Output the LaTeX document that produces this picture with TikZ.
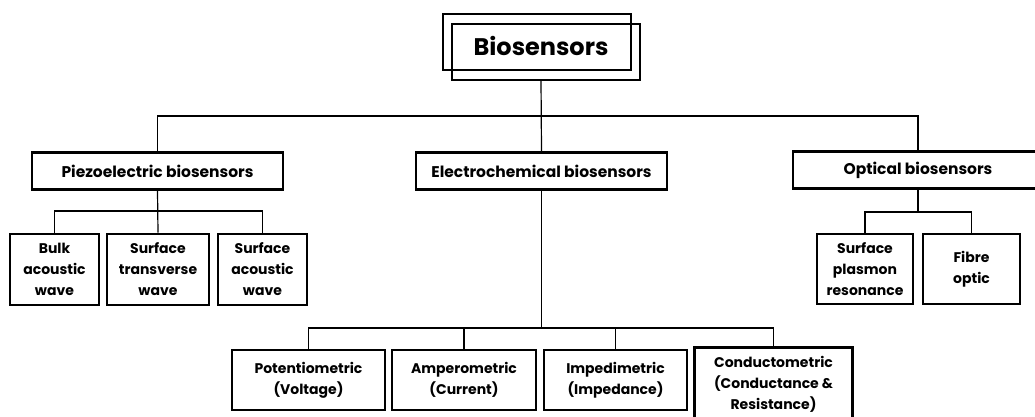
\documentclass[tikz,border=0pt]{standalone}
\usepackage{fontspec}
\setmainfont{Poppins}
\usepackage{tikz}
\usetikzlibrary{positioning,calc}

\begin{document}
\begin{tikzpicture}[x=1pt, y=-1pt,
  box/.style={draw, line width=2.6pt, inner sep=0pt, align=center,
    font=\bfseries\fontsize{14}{21}\selectfont},
  catbox/.style={box, minimum height=37pt,
    font=\bfseries\fontsize{15.5}{19}\selectfont},
  link/.style={line width=1.2pt}]

\useasboundingbox (0,0) rectangle (1035,416);

% top box
\node[font=\bfseries\fontsize{24}{28}\selectfont] (bio) at (541,46) {Biosensors};
\draw[line width=2.6pt] (443,14) rectangle (631,70);
\draw[line width=2.6pt] (452,24) rectangle (640,80);
\coordinate (biobot) at (541,80);

% categories
\node[catbox, minimum width=251pt] (piezo) at (157.5,171) {Piezoelectric biosensors};
\node[catbox, minimum width=251pt] (electro) at (541.5,171) {Electrochemical biosensors};
\node[catbox, minimum width=250pt] (optical) at (918,170) {Optical biosensors};

% piezoelectric types
\node[box, minimum width=89pt, minimum height=71pt] (bulk) at (54.5,269.5) {Bulk\\acoustic\\wave};
\node[box, minimum width=102pt, minimum height=71pt] (stw) at (158,269.5) {Surface\\transverse\\wave};
\node[box, minimum width=89pt, minimum height=71pt] (saw) at (262.5,269.5) {Surface\\acoustic\\wave};

% optical types
\node[box, minimum width=96pt, minimum height=70pt] (spr) at (865,269) {Surface\\plasmon\\resonance};
\node[box, minimum width=97pt, minimum height=70pt] (fibre) at (971.5,269) {Fibre\\optic};

% electrochemical types
\node[box, minimum width=153pt, minimum height=60pt] (pot) at (308.5,380) {Potentiometric\\(Voltage)};
\node[box, minimum width=144pt, minimum height=60pt] (amp) at (464,380) {Amperometric\\(Current)};
\node[box, minimum width=143pt, minimum height=60pt] (imp) at (615.5,380) {Impedimetric\\(Impedance)};
\node[box, draw=none, minimum width=155pt, minimum height=68pt] (cond) at (773.5,384)
  {Conductometric\\(Conductance \&\\Resistance)};
\draw[line width=2.6pt] ($(cond.south west)+(0,12)$) |- ($(cond.north east)+(0,-1)$) -- ++(0,80);

% connectors
\coordinate (topbar) at (541,116);
\draw[link] (biobot) -- (electro.north);
\draw[link] (piezo.north) |- (topbar) -| (optical.north);

\coordinate (pbar) at (157.5,211);
\draw[link] (piezo.south) -- (stw.north);
\draw[link] (bulk.north) |- (pbar) -| (saw.north);

\coordinate (obar) at (918,212);
\draw[link] (optical.south) -- (obar);
\draw[link] (spr.north) |- (obar) -| (fibre.north);

\coordinate (ebar) at (541.5,328);
\draw[link] (electro.south) -- (ebar);
\draw[link] (pot.north) |- (ebar) -| (cond.north);
\draw[link] (amp.north) -- (amp.north |- ebar);
\draw[link] (imp.north) -- (imp.north |- ebar);

\end{tikzpicture}
\end{document}
